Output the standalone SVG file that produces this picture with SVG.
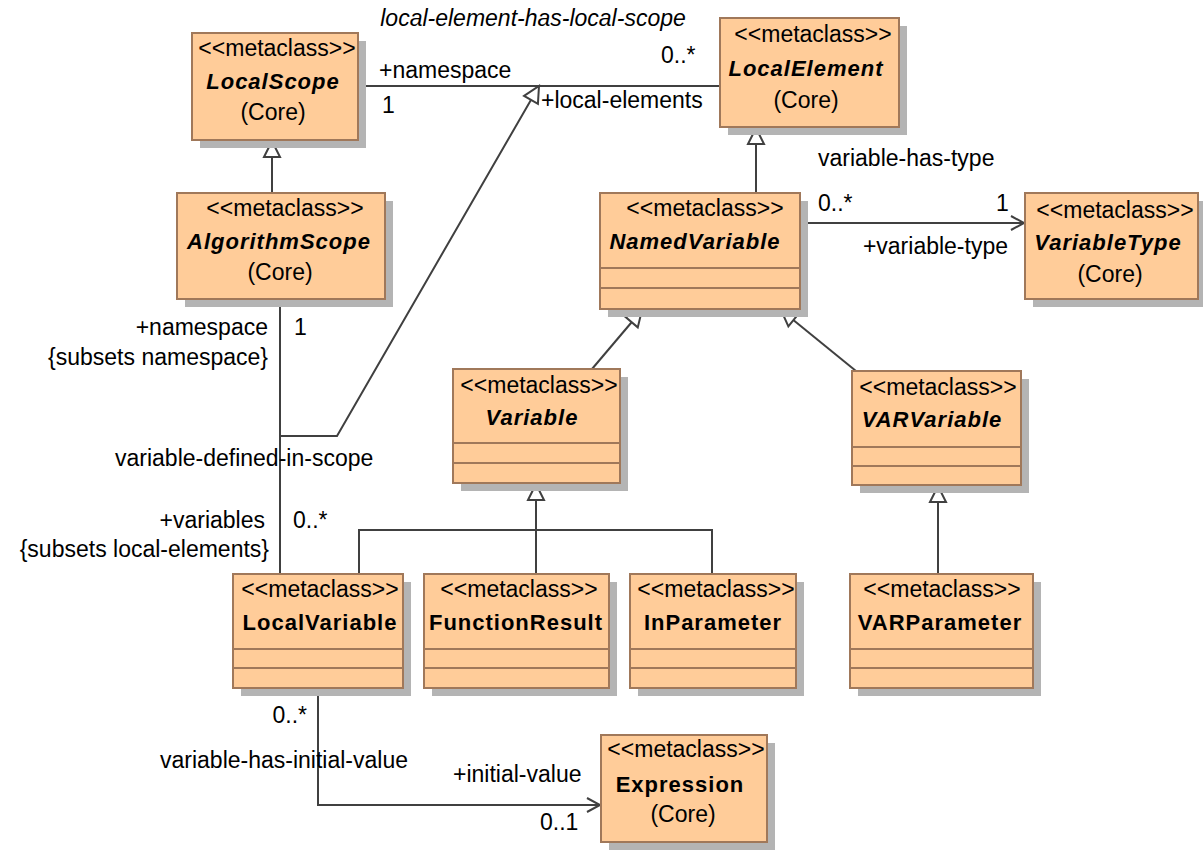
<svg xmlns="http://www.w3.org/2000/svg" width="1203" height="850" viewBox="0 0 1203 850">
<style>
text{font-family:"Liberation Sans",Arial,sans-serif;font-size:23px;fill:#000}
.sh{fill:#b4b4b4}
.bx{fill:#ffcc99;stroke:#a0785a;stroke-width:2}
.cl{stroke:#a0785a;stroke-width:2}
.st{text-anchor:middle}
.nm{font-weight:bold;font-style:italic;text-anchor:middle;font-size:22px;letter-spacing:1px}
.nb{font-weight:bold;text-anchor:middle;font-size:22px;letter-spacing:1px}
.ln{fill:none;stroke:#404040;stroke-width:2}
.r{text-anchor:end}
</style>
<defs>
<marker id="gen" markerWidth="24" markerHeight="24" viewBox="0 0 24 24" refX="21" refY="12" orient="auto" markerUnits="userSpaceOnUse" overflow="visible">
<path d="M5,4 L21,12 L5,20 Z" fill="#fff" stroke="#404040" stroke-width="2"/>
</marker>
<marker id="open" markerWidth="24" markerHeight="24" viewBox="0 0 24 24" refX="21" refY="12" orient="auto" markerUnits="userSpaceOnUse" overflow="visible">
<path d="M8,5 L21,12 L8,19" fill="none" stroke="#404040" stroke-width="2"/>
</marker>
</defs>

<g id="connectors">
<line class="ln" x1="358" y1="86" x2="720" y2="86"/>
<polyline class="ln" points="280,436 337,436 539,86" marker-end="url(#gen)"/>
<line class="ln" x1="272" y1="193" x2="272" y2="141" marker-end="url(#gen)"/>
<line class="ln" x1="280" y1="299" x2="280" y2="574"/>
<line class="ln" x1="756" y1="193" x2="756" y2="128" marker-end="url(#gen)"/>
<line class="ln" x1="800" y1="223" x2="1024" y2="223" marker-end="url(#open)"/>
<line class="ln" x1="592" y1="369" x2="642" y2="310" marker-end="url(#gen)"/>
<line class="ln" x1="856" y1="371" x2="781" y2="310" marker-end="url(#gen)"/>
<polyline class="ln" points="359,574 359,530 712,530 712,574"/>
<line class="ln" x1="536" y1="574" x2="536" y2="484" marker-end="url(#gen)"/>
<line class="ln" x1="938" y1="574" x2="938" y2="486" marker-end="url(#gen)"/>
<polyline class="ln" points="318,688 318,805 600,805" marker-end="url(#open)"/>

<text x="533" y="26" class="st" font-style="italic">local-element-has-local-scope</text>
<text x="379" y="78">+namespace</text>
<text x="382" y="113">1</text>
<text x="661" y="63">0..*</text>
<text x="541" y="108">+local-elements</text>
<text x="818" y="166">variable-has-type</text>
<text x="818" y="211">0..*</text>
<text x="996" y="211">1</text>
<text x="1008" y="254" class="r">+variable-type</text>
<text x="268" y="335" class="r">+namespace</text>
<text x="268" y="365" class="r">{subsets namespace}</text>
<text x="294" y="335">1</text>
<text x="115" y="466">variable-defined-in-scope</text>
<text x="265" y="528" class="r">+variables</text>
<text x="293" y="528">0..*</text>
<text x="269" y="557" class="r">{subsets local-elements}</text>
<text x="307" y="723" class="r">0..*</text>
<text x="160" y="768">variable-has-initial-value</text>
<text x="453" y="782">+initial-value</text>
<text x="540" y="830">0..1</text>
</g>

<g id="LocalScope">
<rect class="sh" x="200" y="41" width="166" height="107"/>
<rect class="bx" x="192" y="33" width="166" height="107"/>
<text x="277" y="56" class="st">&lt;&lt;metaclass&gt;&gt;</text>
<text x="273" y="89" class="nm">LocalScope</text>
<text x="273" y="120" class="st">(Core)</text>
</g>

<g id="LocalElement">
<rect class="sh" x="728" y="26" width="179" height="109"/>
<rect class="bx" x="720" y="18" width="179" height="109"/>
<text x="813" y="42" class="st">&lt;&lt;metaclass&gt;&gt;</text>
<text x="806" y="76" class="nm">LocalElement</text>
<text x="806" y="108" class="st">(Core)</text>
</g>

<g id="AlgorithmScope">
<rect class="sh" x="185" y="201" width="208" height="106"/>
<rect class="bx" x="177" y="193" width="208" height="106"/>
<text x="285" y="216" class="st">&lt;&lt;metaclass&gt;&gt;</text>
<text x="279" y="249" class="nm">AlgorithmScope</text>
<text x="280" y="280" class="st">(Core)</text>
</g>

<g id="NamedVariable">
<rect class="sh" x="608" y="201" width="200" height="116"/>
<rect class="bx" x="600" y="193" width="200" height="116"/>
<line class="cl" x1="600" y1="268" x2="800" y2="268"/>
<line class="cl" x1="600" y1="288" x2="800" y2="288"/>
<text x="705" y="216" class="st">&lt;&lt;metaclass&gt;&gt;</text>
<text x="695" y="249" class="nm">NamedVariable</text>
</g>

<g id="VariableType">
<rect class="sh" x="1033" y="201" width="173" height="106"/>
<rect class="bx" x="1025" y="193" width="173" height="106"/>
<text x="1115" y="218" class="st">&lt;&lt;metaclass&gt;&gt;</text>
<text x="1108" y="250" class="nm">VariableType</text>
<text x="1110" y="282" class="st">(Core)</text>
</g>

<g id="Variable">
<rect class="sh" x="461" y="377" width="167" height="114"/>
<rect class="bx" x="453" y="369" width="167" height="114"/>
<line class="cl" x1="453" y1="443" x2="620" y2="443"/>
<line class="cl" x1="453" y1="463" x2="620" y2="463"/>
<text x="539" y="393" class="st">&lt;&lt;metaclass&gt;&gt;</text>
<text x="532" y="425" class="nm">Variable</text>
</g>

<g id="VARVariable">
<rect class="sh" x="860" y="379" width="169" height="114"/>
<rect class="bx" x="852" y="371" width="169" height="114"/>
<line class="cl" x1="852" y1="447" x2="1021" y2="447"/>
<line class="cl" x1="852" y1="466" x2="1021" y2="466"/>
<text x="938" y="395" class="st">&lt;&lt;metaclass&gt;&gt;</text>
<text x="932" y="427" class="nm">VARVariable</text>
</g>

<g id="LocalVariable">
<rect class="sh" x="241" y="582" width="170" height="114"/>
<rect class="bx" x="233" y="574" width="170" height="114"/>
<line class="cl" x1="233" y1="649" x2="403" y2="649"/>
<line class="cl" x1="233" y1="668" x2="403" y2="668"/>
<text x="320" y="597" class="st">&lt;&lt;metaclass&gt;&gt;</text>
<text x="320" y="630" class="nb">LocalVariable</text>
</g>

<g id="FunctionResult">
<rect class="sh" x="432" y="582" width="185" height="114"/>
<rect class="bx" x="424" y="574" width="185" height="114"/>
<line class="cl" x1="424" y1="649" x2="609" y2="649"/>
<line class="cl" x1="424" y1="668" x2="609" y2="668"/>
<text x="519" y="597" class="st">&lt;&lt;metaclass&gt;&gt;</text>
<text x="516" y="630" class="nb">FunctionResult</text>
</g>

<g id="InParameter">
<rect class="sh" x="638" y="582" width="166" height="114"/>
<rect class="bx" x="630" y="574" width="166" height="114"/>
<line class="cl" x1="630" y1="649" x2="796" y2="649"/>
<line class="cl" x1="630" y1="668" x2="796" y2="668"/>
<text x="716" y="597" class="st">&lt;&lt;metaclass&gt;&gt;</text>
<text x="713" y="630" class="nb">InParameter</text>
</g>

<g id="VARParameter">
<rect class="sh" x="858" y="582" width="183" height="114"/>
<rect class="bx" x="850" y="574" width="183" height="114"/>
<line class="cl" x1="850" y1="649" x2="1033" y2="649"/>
<line class="cl" x1="850" y1="668" x2="1033" y2="668"/>
<text x="942" y="597" class="st">&lt;&lt;metaclass&gt;&gt;</text>
<text x="940" y="630" class="nb">VARParameter</text>
</g>

<g id="Expression">
<rect class="sh" x="609" y="743" width="166" height="107"/>
<rect class="bx" x="601" y="735" width="166" height="107"/>
<text x="686" y="757" class="st">&lt;&lt;metaclass&gt;&gt;</text>
<text x="680" y="792" class="nb">Expression</text>
<text x="683" y="822" class="st">(Core)</text>
</g>
</svg>
